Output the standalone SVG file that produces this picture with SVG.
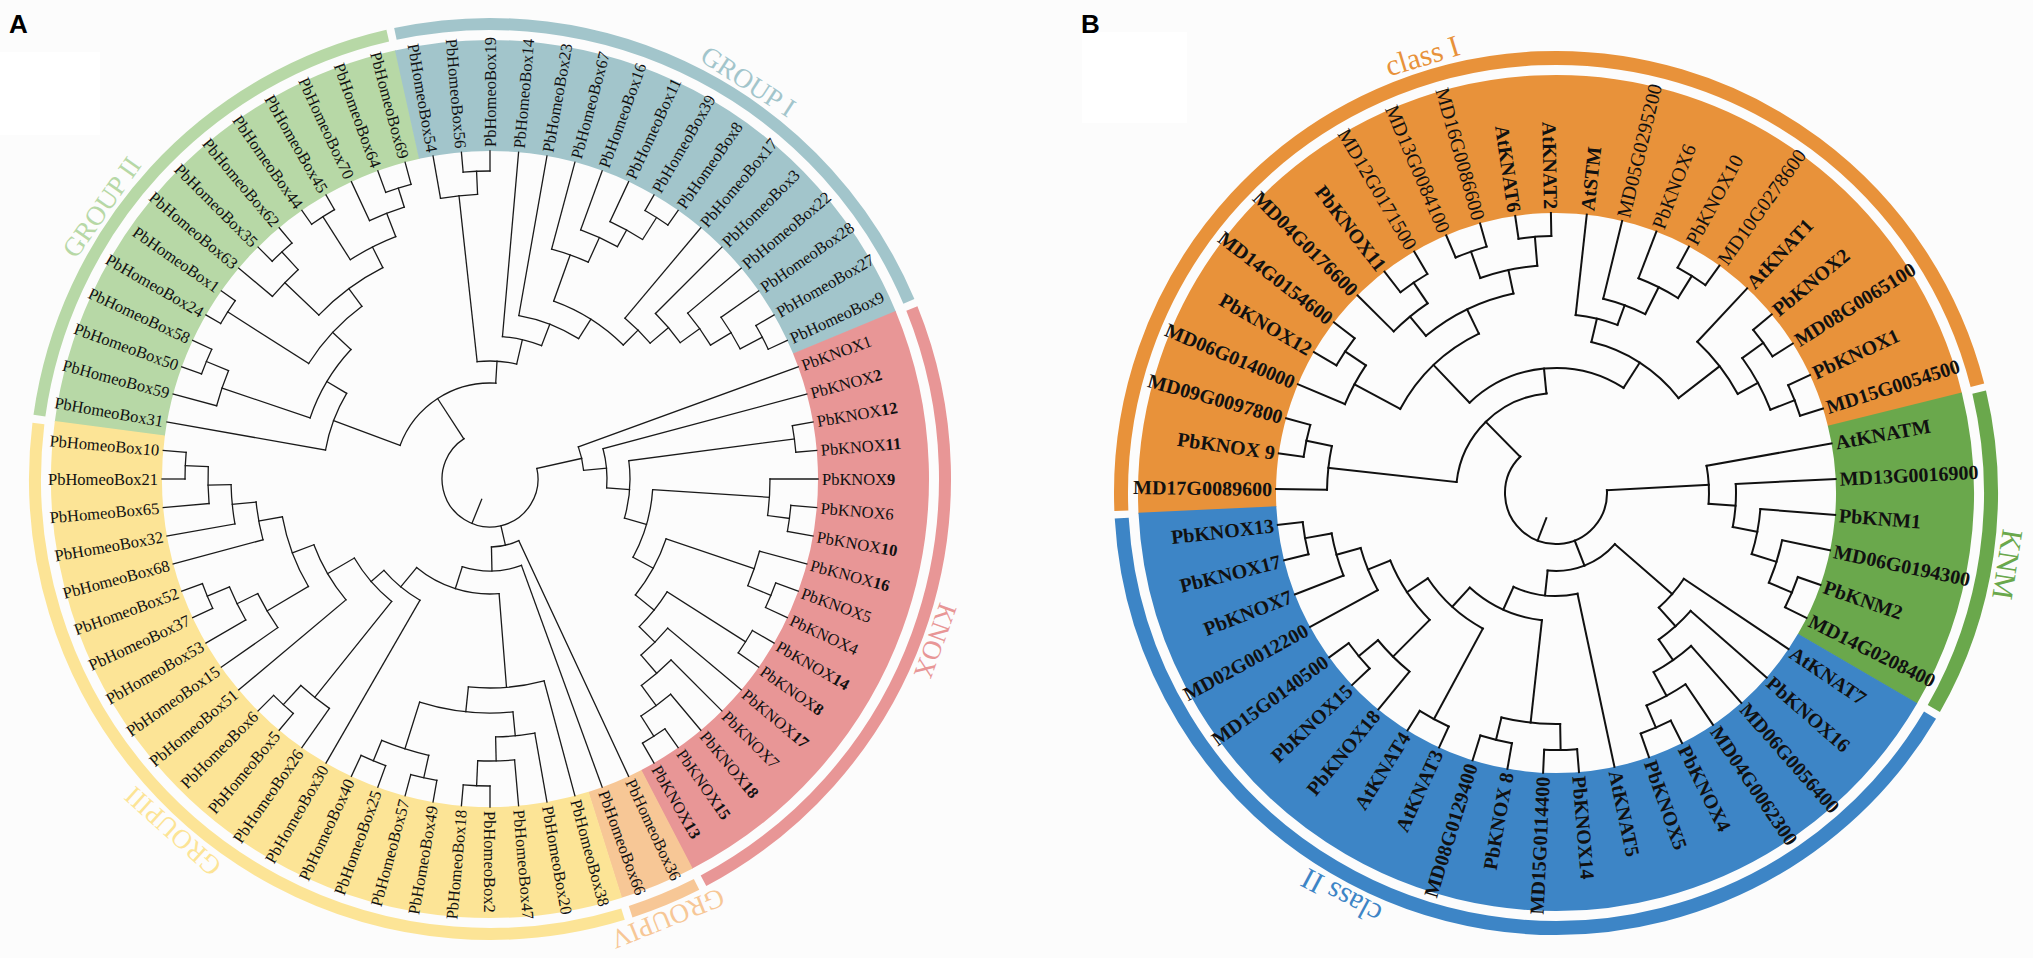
<svg xmlns="http://www.w3.org/2000/svg" width="2033" height="958" viewBox="0 0 2033 958">
<style>
text{font-family:"Liberation Serif","Times New Roman",serif;fill:#111}
.la text{font-size:16.5px}
.lb text{font-size:20px;font-weight:bold}
.lb text.n{font-weight:normal}
.e{text-anchor:end}
.m{text-anchor:middle}
.ca line,.ca circle{fill:none;stroke:#1a1a1a;stroke-width:1.3;stroke-linecap:square}
.cb line,.cb circle{fill:none;stroke:#111;stroke-width:2;stroke-linecap:square}
.bd circle{fill:none}
.lt{font-family:"Liberation Sans",Arial,sans-serif;font-weight:bold;font-size:26px;fill:#000}
.ga{font-size:27px}
.gb{font-size:30px}
</style>
<rect width="2033" height="958" fill="#fcfcfc"/>
<rect x="0" y="52" width="100" height="83" fill="#fff"/>
<rect x="1082" y="32" width="105" height="91" fill="#fff"/>
<text class="lt" x="9" y="33">A</text>
<text class="lt" x="1081" y="33">B</text>

<g id="panelA" transform="translate(490,479)">
<g id="bandsA" class="bd">
<circle r="383.5" stroke="#b7d8a6" stroke-width="111" stroke-dasharray="469 9999" transform="rotate(187.5)"/>
<circle r="383.5" stroke="#a2c5cb" stroke-width="111" stroke-dasharray="536 9999" transform="rotate(257.5)"/>
<circle r="383.5" stroke="#e89696" stroke-width="111" stroke-dasharray="569.4 9999" transform="rotate(337.5)"/>
<circle r="383.5" stroke="#f7c796" stroke-width="111" stroke-dasharray="67.4 9999" transform="rotate(62.5)"/>
<circle r="383.5" stroke="#fce496" stroke-width="111" stroke-dasharray="770.2 9999" transform="rotate(72.5)"/>
<circle r="455" stroke="#b7d8a6" stroke-width="12" stroke-dasharray="547.94 9999" transform="rotate(188)"/>
<circle r="455" stroke="#a2c5cb" stroke-width="12" stroke-dasharray="627.35 9999" transform="rotate(258)"/>
<circle r="455" stroke="#e89696" stroke-width="12" stroke-dasharray="667.06 9999" transform="rotate(338)"/>
<circle r="455" stroke="#f7c796" stroke-width="12" stroke-dasharray="71.47 9999" transform="rotate(63)"/>
<circle r="455" stroke="#fce496" stroke-width="12" stroke-dasharray="905.3 9999" transform="rotate(73)"/>
</g>
<g id="groupLabelsA">
<text id="gA-I" class="m ga" style="fill:#a2c5cb" transform="rotate(303) translate(465) rotate(90)">GROUP I</text>
<text id="gA-II" class="m ga" style="fill:#b7d8a6" transform="rotate(215) translate(465) rotate(90)">GROUP II</text>
<text id="gA-KNOX" class="m ga" style="fill:#e89696" transform="rotate(20) translate(465) rotate(90)">KNOX</text>
<text id="gA-III" class="m ga" style="fill:#fce496" transform="rotate(132) translate(465) rotate(90)">GROUPIII</text>
<text id="gA-IV" class="m ga" style="fill:#f7c796" transform="rotate(68) translate(465) rotate(90)">GROUPIV</text>
</g>
<g id="leavesA" class="la">
<text transform="rotate(270)" x="332" dy=".35em">PbHomeoBox19</text>
<text transform="rotate(275)" x="332" dy=".35em">PbHomeoBox14</text>
<text transform="rotate(280)" x="332" dy=".35em">PbHomeoBox23</text>
<text transform="rotate(285)" x="332" dy=".35em">PbHomeoBox67</text>
<text transform="rotate(290)" x="332" dy=".35em">PbHomeoBox16</text>
<text transform="rotate(295)" x="332" dy=".35em">PbHomeoBox11</text>
<text transform="rotate(300)" x="332" dy=".35em">PbHomeoBox39</text>
<text transform="rotate(305)" x="332" dy=".35em">PbHomeoBox8</text>
<text transform="rotate(310)" x="332" dy=".35em">PbHomeoBox17</text>
<text transform="rotate(315)" x="332" dy=".35em">PbHomeoBox3</text>
<text transform="rotate(320)" x="332" dy=".35em">PbHomeoBox22</text>
<text transform="rotate(325)" x="332" dy=".35em">PbHomeoBox28</text>
<text transform="rotate(330)" x="332" dy=".35em">PbHomeoBox27</text>
<text transform="rotate(335)" x="332" dy=".35em">PbHomeoBox9</text>
<text transform="rotate(340)" x="332" dy=".35em">PbKNOX1</text>
<text transform="rotate(345)" x="332" dy=".35em">PbKNOX<tspan font-weight="bold">2</tspan></text>
<text transform="rotate(350)" x="332" dy=".35em">PbKNOX<tspan font-weight="bold">12</tspan></text>
<text transform="rotate(355)" x="332" dy=".35em">PbKNOX<tspan font-weight="bold">11</tspan></text>
<text transform="rotate(0)" x="332" dy=".35em">PbKNOX<tspan font-weight="bold">9</tspan></text>
<text transform="rotate(5)" x="332" dy=".35em">PbKNOX6</text>
<text transform="rotate(10)" x="332" dy=".35em">PbKNOX<tspan font-weight="bold">10</tspan></text>
<text transform="rotate(15)" x="332" dy=".35em">PbKNOX<tspan font-weight="bold">16</tspan></text>
<text transform="rotate(20)" x="332" dy=".35em">PbKNOX5</text>
<text transform="rotate(25)" x="332" dy=".35em">PbKNOX4</text>
<text transform="rotate(30)" x="332" dy=".35em">PbKNOX<tspan font-weight="bold">14</tspan></text>
<text transform="rotate(35)" x="332" dy=".35em">PbKNOX<tspan font-weight="bold">8</tspan></text>
<text transform="rotate(40)" x="332" dy=".35em">PbKNOX<tspan font-weight="bold">17</tspan></text>
<text transform="rotate(45)" x="332" dy=".35em">PbKNOX7</text>
<text transform="rotate(50)" x="332" dy=".35em">PbKNOX<tspan font-weight="bold">18</tspan></text>
<text transform="rotate(55)" x="332" dy=".35em">PbKNOX<tspan font-weight="bold">15</tspan></text>
<text transform="rotate(60)" x="332" dy=".35em">PbKNOX<tspan font-weight="bold">13</tspan></text>
<text transform="rotate(65)" x="332" dy=".35em">PbHomeoBox36</text>
<text transform="rotate(70)" x="332" dy=".35em">PbHomeoBox66</text>
<text transform="rotate(75)" x="332" dy=".35em">PbHomeoBox38</text>
<text transform="rotate(80)" x="332" dy=".35em">PbHomeoBox20</text>
<text transform="rotate(85)" x="332" dy=".35em">PbHomeoBox47</text>
<text transform="rotate(90)" x="332" dy=".35em">PbHomeoBox2</text>
<text class="e" transform="rotate(-85)" x="-332" dy=".35em">PbHomeoBox18</text>
<text class="e" transform="rotate(-80)" x="-332" dy=".35em">PbHomeoBox49</text>
<text class="e" transform="rotate(-75)" x="-332" dy=".35em">PbHomeoBox57</text>
<text class="e" transform="rotate(-70)" x="-332" dy=".35em">PbHomeoBox25</text>
<text class="e" transform="rotate(-65)" x="-332" dy=".35em">PbHomeoBox40</text>
<text class="e" transform="rotate(-60)" x="-332" dy=".35em">PbHomeoBox30</text>
<text class="e" transform="rotate(-55)" x="-332" dy=".35em">PbHomeoBox26</text>
<text class="e" transform="rotate(-50)" x="-332" dy=".35em">PbHomeoBox5</text>
<text class="e" transform="rotate(-45)" x="-332" dy=".35em">PbHomeoBox6</text>
<text class="e" transform="rotate(-40)" x="-332" dy=".35em">PbHomeoBox51</text>
<text class="e" transform="rotate(-35)" x="-332" dy=".35em">PbHomeoBox15</text>
<text class="e" transform="rotate(-30)" x="-332" dy=".35em">PbHomeoBox53</text>
<text class="e" transform="rotate(-25)" x="-332" dy=".35em">PbHomeoBox37</text>
<text class="e" transform="rotate(-20)" x="-332" dy=".35em">PbHomeoBox52</text>
<text class="e" transform="rotate(-15)" x="-332" dy=".35em">PbHomeoBox68</text>
<text class="e" transform="rotate(-10)" x="-332" dy=".35em">PbHomeoBox32</text>
<text class="e" transform="rotate(-5)" x="-332" dy=".35em">PbHomeoBox65</text>
<text class="e" transform="rotate(0)" x="-332" dy=".35em">PbHomeoBox21</text>
<text class="e" transform="rotate(5)" x="-332" dy=".35em">PbHomeoBox10</text>
<text class="e" transform="rotate(10)" x="-332" dy=".35em">PbHomeoBox31</text>
<text class="e" transform="rotate(15)" x="-332" dy=".35em">PbHomeoBox59</text>
<text class="e" transform="rotate(20)" x="-332" dy=".35em">PbHomeoBox50</text>
<text class="e" transform="rotate(25)" x="-332" dy=".35em">PbHomeoBox58</text>
<text class="e" transform="rotate(30)" x="-332" dy=".35em">PbHomeoBox24</text>
<text class="e" transform="rotate(35)" x="-332" dy=".35em">PbHomeoBox1</text>
<text class="e" transform="rotate(40)" x="-332" dy=".35em">PbHomeoBox63</text>
<text class="e" transform="rotate(45)" x="-332" dy=".35em">PbHomeoBox35</text>
<text class="e" transform="rotate(50)" x="-332" dy=".35em">PbHomeoBox62</text>
<text class="e" transform="rotate(55)" x="-332" dy=".35em">PbHomeoBox44</text>
<text class="e" transform="rotate(60)" x="-332" dy=".35em">PbHomeoBox45</text>
<text class="e" transform="rotate(65)" x="-332" dy=".35em">PbHomeoBox70</text>
<text class="e" transform="rotate(70)" x="-332" dy=".35em">PbHomeoBox64</text>
<text class="e" transform="rotate(75)" x="-332" dy=".35em">PbHomeoBox69</text>
<text class="e" transform="rotate(80)" x="-332" dy=".35em">PbHomeoBox54</text>
<text class="e" transform="rotate(85)" x="-332" dy=".35em">PbHomeoBox56</text>
</g>
<g id="connectorsA" class="ca">
<circle r="307" stroke-dasharray="26.79 9999" transform="rotate(350)"/>
<circle r="302" stroke-dasharray="26.35 9999" transform="rotate(5)"/>
<circle r="280" stroke-dasharray="36.65 9999" transform="rotate(0)"/>
<circle r="304" stroke-dasharray="26.53 9999" transform="rotate(20)"/>
<circle r="279" stroke-dasharray="36.52 9999" transform="rotate(15)"/>
<circle r="303" stroke-dasharray="26.44 9999" transform="rotate(30)"/>
<circle r="305" stroke-dasharray="26.62 9999" transform="rotate(55)"/>
<circle r="281" stroke-dasharray="36.78 9999" transform="rotate(50)"/>
<circle r="256" stroke-dasharray="39.1 9999" transform="rotate(45)"/>
<circle r="232" stroke-dasharray="37.96 9999" transform="rotate(40)"/>
<circle r="210" stroke-dasharray="44.68 9999" transform="rotate(32.5)"/>
<circle r="186" stroke-dasharray="64.41 9999" transform="rotate(18.75)"/>
<circle r="163" stroke-dasharray="70.89 9999" transform="rotate(3.75)"/>
<circle r="140" stroke-dasharray="57.93 9999" transform="rotate(352.5)"/>
<circle r="117" stroke-dasharray="39.53 9999" transform="rotate(345)"/>
<circle r="94" stroke-dasharray="24.08 9999" transform="rotate(340)"/>
<circle r="307" stroke-dasharray="26.79 9999" transform="rotate(90)"/>
<circle r="282" stroke-dasharray="36.91 9999" transform="rotate(85)"/>
<circle r="258" stroke-dasharray="39.4 9999" transform="rotate(80)"/>
<circle r="306" stroke-dasharray="26.7 9999" transform="rotate(100)"/>
<circle r="305" stroke-dasharray="26.62 9999" transform="rotate(110)"/>
<circle r="283" stroke-dasharray="49.39 9999" transform="rotate(102.5)"/>
<circle r="234" stroke-dasharray="94.44 9999" transform="rotate(84.375)"/>
<circle r="209" stroke-dasharray="76.38 9999" transform="rotate(75)"/>
<circle r="306" stroke-dasharray="26.7 9999" transform="rotate(130)"/>
<circle r="280" stroke-dasharray="36.65 9999" transform="rotate(125)"/>
<circle r="305" stroke-dasharray="26.62 9999" transform="rotate(180)"/>
<circle r="282" stroke-dasharray="36.91 9999" transform="rotate(175)"/>
<circle r="259" stroke-dasharray="39.55 9999" transform="rotate(170)"/>
<circle r="235" stroke-dasharray="38.45 9999" transform="rotate(165)"/>
<circle r="306" stroke-dasharray="26.7 9999" transform="rotate(155)"/>
<circle r="282" stroke-dasharray="36.91 9999" transform="rotate(150)"/>
<circle r="259" stroke-dasharray="39.55 9999" transform="rotate(145)"/>
<circle r="211" stroke-dasharray="74.81 9999" transform="rotate(149.375)"/>
<circle r="188" stroke-dasharray="64.08 9999" transform="rotate(140)"/>
<circle r="157" stroke-dasharray="57.6 9999" transform="rotate(128.75)"/>
<circle r="140" stroke-dasharray="47.06 9999" transform="rotate(120)"/>
<circle r="115" stroke-dasharray="88.64 9999" transform="rotate(85.47)"/>
<circle r="92" stroke-dasharray="60.29 9999" transform="rotate(70)"/>
<circle r="68" stroke-dasharray="28.22 9999" transform="rotate(65)"/>
<circle r="308" stroke-dasharray="26.88 9999" transform="rotate(265)"/>
<circle r="285" stroke-dasharray="37.31 9999" transform="rotate(260)"/>
<circle r="310" stroke-dasharray="27.05 9999" transform="rotate(300)"/>
<circle r="284" stroke-dasharray="37.18 9999" transform="rotate(295)"/>
<circle r="265" stroke-dasharray="40.47 9999" transform="rotate(290)"/>
<circle r="238" stroke-dasharray="38.94 9999" transform="rotate(285)"/>
<circle r="307" stroke-dasharray="26.79 9999" transform="rotate(330)"/>
<circle r="282" stroke-dasharray="36.91 9999" transform="rotate(325)"/>
<circle r="258" stroke-dasharray="39.4 9999" transform="rotate(320)"/>
<circle r="234" stroke-dasharray="38.29 9999" transform="rotate(315)"/>
<circle r="210" stroke-dasharray="35.52 9999" transform="rotate(310)"/>
<circle r="189" stroke-dasharray="82.96 9999" transform="rotate(289.69)"/>
<circle r="166" stroke-dasharray="64.52 9999" transform="rotate(280)"/>
<circle r="143" stroke-dasharray="40.26 9999" transform="rotate(275)"/>
<circle r="118" stroke-dasharray="39.79 9999" transform="rotate(263.75)"/>
<circle r="305" stroke-dasharray="26.62 9999" transform="rotate(250)"/>
<circle r="285" stroke-dasharray="37.31 9999" transform="rotate(245)"/>
<circle r="311" stroke-dasharray="27.14 9999" transform="rotate(235)"/>
<circle r="260" stroke-dasharray="51.05 9999" transform="rotate(237.5)"/>
<circle r="308" stroke-dasharray="26.88 9999" transform="rotate(225)"/>
<circle r="284" stroke-dasharray="37.18 9999" transform="rotate(220)"/>
<circle r="237" stroke-dasharray="80.14 9999" transform="rotate(223.75)"/>
<circle r="311" stroke-dasharray="27.14 9999" transform="rotate(210)"/>
<circle r="215" stroke-dasharray="78.58 9999" transform="rotate(212.5)"/>
<circle r="307" stroke-dasharray="26.79 9999" transform="rotate(200)"/>
<circle r="283" stroke-dasharray="37.04 9999" transform="rotate(195)"/>
<circle r="190" stroke-dasharray="80.32 9999" transform="rotate(198.75)"/>
<circle r="167" stroke-dasharray="60.8 9999" transform="rotate(190)"/>
<circle r="96" stroke-dasharray="122.28 9999" transform="rotate(200.43)"/>
<circle r="48" stroke-dasharray="209.09 9999" transform="rotate(-12.66)"/>
<line x1="307" x2="328" transform="rotate(350)"/>
<line x1="307" x2="328" transform="rotate(355)"/>
<line x1="302" x2="328" transform="rotate(5)"/>
<line x1="302" x2="328" transform="rotate(10)"/>
<line x1="280" x2="328" transform="rotate(0)"/>
<line x1="280" x2="302" transform="rotate(7.5)"/>
<line x1="304" x2="328" transform="rotate(20)"/>
<line x1="304" x2="328" transform="rotate(25)"/>
<line x1="279" x2="328" transform="rotate(15)"/>
<line x1="279" x2="304" transform="rotate(22.5)"/>
<line x1="303" x2="328" transform="rotate(30)"/>
<line x1="303" x2="328" transform="rotate(35)"/>
<line x1="305" x2="328" transform="rotate(55)"/>
<line x1="305" x2="328" transform="rotate(60)"/>
<line x1="281" x2="328" transform="rotate(50)"/>
<line x1="281" x2="305" transform="rotate(57.5)"/>
<line x1="256" x2="328" transform="rotate(45)"/>
<line x1="256" x2="281" transform="rotate(53.75)"/>
<line x1="232" x2="328" transform="rotate(40)"/>
<line x1="232" x2="256" transform="rotate(49.375)"/>
<line x1="210" x2="303" transform="rotate(32.5)"/>
<line x1="210" x2="232" transform="rotate(44.69)"/>
<line x1="186" x2="279" transform="rotate(18.75)"/>
<line x1="186" x2="210" transform="rotate(38.59)"/>
<line x1="163" x2="280" transform="rotate(3.75)"/>
<line x1="163" x2="186" transform="rotate(28.67)"/>
<line x1="140" x2="307" transform="rotate(352.5)"/>
<line x1="140" x2="163" transform="rotate(16.21)"/>
<line x1="117" x2="328" transform="rotate(345)"/>
<line x1="117" x2="140" transform="rotate(4.36)"/>
<line x1="94" x2="328" transform="rotate(340)"/>
<line x1="94" x2="117" transform="rotate(354.68)"/>
<line x1="48" x2="94" transform="rotate(347.34)"/>
<line x1="307" x2="328" transform="rotate(90)"/>
<line x1="307" x2="328" transform="rotate(95)"/>
<line x1="282" x2="328" transform="rotate(85)"/>
<line x1="282" x2="307" transform="rotate(92.5)"/>
<line x1="258" x2="328" transform="rotate(80)"/>
<line x1="258" x2="282" transform="rotate(88.75)"/>
<line x1="306" x2="328" transform="rotate(100)"/>
<line x1="306" x2="328" transform="rotate(105)"/>
<line x1="305" x2="328" transform="rotate(110)"/>
<line x1="305" x2="328" transform="rotate(115)"/>
<line x1="283" x2="306" transform="rotate(102.5)"/>
<line x1="283" x2="305" transform="rotate(112.5)"/>
<line x1="234" x2="258" transform="rotate(84.375)"/>
<line x1="234" x2="283" transform="rotate(107.5)"/>
<line x1="209" x2="328" transform="rotate(75)"/>
<line x1="209" x2="234" transform="rotate(95.94)"/>
<line x1="306" x2="328" transform="rotate(130)"/>
<line x1="306" x2="328" transform="rotate(135)"/>
<line x1="280" x2="328" transform="rotate(125)"/>
<line x1="280" x2="306" transform="rotate(132.5)"/>
<line x1="305" x2="328" transform="rotate(180)"/>
<line x1="305" x2="328" transform="rotate(185)"/>
<line x1="282" x2="328" transform="rotate(175)"/>
<line x1="282" x2="305" transform="rotate(182.5)"/>
<line x1="259" x2="328" transform="rotate(170)"/>
<line x1="259" x2="282" transform="rotate(178.75)"/>
<line x1="235" x2="328" transform="rotate(165)"/>
<line x1="235" x2="259" transform="rotate(174.375)"/>
<line x1="306" x2="328" transform="rotate(155)"/>
<line x1="306" x2="328" transform="rotate(160)"/>
<line x1="282" x2="328" transform="rotate(150)"/>
<line x1="282" x2="306" transform="rotate(157.5)"/>
<line x1="259" x2="328" transform="rotate(145)"/>
<line x1="259" x2="282" transform="rotate(153.75)"/>
<line x1="211" x2="259" transform="rotate(149.375)"/>
<line x1="211" x2="235" transform="rotate(169.69)"/>
<line x1="188" x2="328" transform="rotate(140)"/>
<line x1="188" x2="211" transform="rotate(159.53)"/>
<line x1="157" x2="280" transform="rotate(128.75)"/>
<line x1="157" x2="188" transform="rotate(149.77)"/>
<line x1="140" x2="328" transform="rotate(120)"/>
<line x1="140" x2="157" transform="rotate(139.26)"/>
<line x1="115" x2="209" transform="rotate(85.47)"/>
<line x1="115" x2="140" transform="rotate(129.63)"/>
<line x1="92" x2="328" transform="rotate(70)"/>
<line x1="92" x2="115" transform="rotate(107.55)"/>
<line x1="68" x2="328" transform="rotate(65)"/>
<line x1="68" x2="92" transform="rotate(88.78)"/>
<line x1="48" x2="68" transform="rotate(76.89)"/>
<line x1="308" x2="328" transform="rotate(265)"/>
<line x1="308" x2="328" transform="rotate(270)"/>
<line x1="285" x2="328" transform="rotate(260)"/>
<line x1="285" x2="308" transform="rotate(267.5)"/>
<line x1="310" x2="328" transform="rotate(300)"/>
<line x1="310" x2="328" transform="rotate(305)"/>
<line x1="284" x2="328" transform="rotate(295)"/>
<line x1="284" x2="310" transform="rotate(302.5)"/>
<line x1="265" x2="328" transform="rotate(290)"/>
<line x1="265" x2="284" transform="rotate(298.75)"/>
<line x1="238" x2="328" transform="rotate(285)"/>
<line x1="238" x2="265" transform="rotate(294.375)"/>
<line x1="307" x2="328" transform="rotate(330)"/>
<line x1="307" x2="328" transform="rotate(335)"/>
<line x1="282" x2="328" transform="rotate(325)"/>
<line x1="282" x2="307" transform="rotate(332.5)"/>
<line x1="258" x2="328" transform="rotate(320)"/>
<line x1="258" x2="282" transform="rotate(328.75)"/>
<line x1="234" x2="328" transform="rotate(315)"/>
<line x1="234" x2="258" transform="rotate(324.375)"/>
<line x1="210" x2="328" transform="rotate(310)"/>
<line x1="210" x2="234" transform="rotate(319.69)"/>
<line x1="189" x2="238" transform="rotate(289.69)"/>
<line x1="189" x2="210" transform="rotate(314.84)"/>
<line x1="166" x2="328" transform="rotate(280)"/>
<line x1="166" x2="189" transform="rotate(302.27)"/>
<line x1="143" x2="328" transform="rotate(275)"/>
<line x1="143" x2="166" transform="rotate(291.13)"/>
<line x1="118" x2="285" transform="rotate(263.75)"/>
<line x1="118" x2="143" transform="rotate(283.07)"/>
<line x1="305" x2="328" transform="rotate(250)"/>
<line x1="305" x2="328" transform="rotate(255)"/>
<line x1="285" x2="328" transform="rotate(245)"/>
<line x1="285" x2="305" transform="rotate(252.5)"/>
<line x1="311" x2="328" transform="rotate(235)"/>
<line x1="311" x2="328" transform="rotate(240)"/>
<line x1="260" x2="311" transform="rotate(237.5)"/>
<line x1="260" x2="285" transform="rotate(248.75)"/>
<line x1="308" x2="328" transform="rotate(225)"/>
<line x1="308" x2="328" transform="rotate(230)"/>
<line x1="284" x2="328" transform="rotate(220)"/>
<line x1="284" x2="308" transform="rotate(227.5)"/>
<line x1="237" x2="284" transform="rotate(223.75)"/>
<line x1="237" x2="260" transform="rotate(243.125)"/>
<line x1="311" x2="328" transform="rotate(210)"/>
<line x1="311" x2="328" transform="rotate(215)"/>
<line x1="215" x2="311" transform="rotate(212.5)"/>
<line x1="215" x2="237" transform="rotate(233.44)"/>
<line x1="307" x2="328" transform="rotate(200)"/>
<line x1="307" x2="328" transform="rotate(205)"/>
<line x1="283" x2="328" transform="rotate(195)"/>
<line x1="283" x2="307" transform="rotate(202.5)"/>
<line x1="190" x2="283" transform="rotate(198.75)"/>
<line x1="190" x2="215" transform="rotate(222.97)"/>
<line x1="167" x2="328" transform="rotate(190)"/>
<line x1="167" x2="190" transform="rotate(210.86)"/>
<line x1="96" x2="167" transform="rotate(200.43)"/>
<line x1="96" x2="118" transform="rotate(273.41)"/>
<line x1="48" x2="96" transform="rotate(236.92)"/>
<line x1="22" x2="48" transform="rotate(112.13)"/>
</g>
</g>

<g id="panelB" transform="translate(1556,493)">
<g id="bandsB" class="bd">
<circle r="349" stroke="#e8923a" stroke-width="138" stroke-dasharray="1029.6 9999" transform="rotate(177.15)"/>
<circle r="349" stroke="#6aa84c" stroke-width="138" stroke-dasharray="269.1 9999" transform="rotate(346.1)"/>
<circle r="349" stroke="#3d85c6" stroke-width="138" stroke-dasharray="895.6 9999" transform="rotate(30.2)"/>
<circle r="435" stroke="#e8923a" stroke-width="14" stroke-dasharray="1275.1 9999" transform="rotate(177.65)"/>
<circle r="435" stroke="#6aa84c" stroke-width="14" stroke-dasharray="327.2 9999" transform="rotate(346.6)"/>
<circle r="435" stroke="#3d85c6" stroke-width="14" stroke-dasharray="1108.1 9999" transform="rotate(30.7)"/>
</g>
<g id="groupLabelsB">
<text id="gB-I" class="m gb" style="fill:#e8923a" transform="rotate(253) translate(447) rotate(90)">class I</text>
<text id="gB-KNM" class="m gb" style="fill:#6aa84c" transform="rotate(9) translate(447) rotate(90)">KNM</text>
<text id="gB-II" class="m gb" style="fill:#3d85c6" transform="rotate(118) translate(447) rotate(90)">class II</text>
</g>
<g id="leavesB" class="lb">
<text class="e" transform="rotate(0.8)" x="-284" dy=".35em">MD17G0089600</text>
<text class="e" transform="rotate(8.15)" x="-284" dy=".35em">PbKNOX 9</text>
<text class="e" transform="rotate(15.49)" x="-284" dy=".35em">MD09G0097800</text>
<text class="e" transform="rotate(22.84)" x="-284" dy=".35em">MD06G0140000</text>
<text class="e" transform="rotate(30.19)" x="-284" dy=".35em">PbKNOX12</text>
<text class="e" transform="rotate(37.54)" x="-284" dy=".35em">MD14G0154600</text>
<text class="e" transform="rotate(44.88)" x="-284" dy=".35em">MD04G0176600</text>
<text class="e" transform="rotate(52.23)" x="-284" dy=".35em">PbKNOX11</text>
<text class="e n" transform="rotate(59.58)" x="-284" dy=".35em">MD12G0171500</text>
<text class="e n" transform="rotate(66.92)" x="-284" dy=".35em">MD13G0084100</text>
<text class="e n" transform="rotate(74.27)" x="-284" dy=".35em">MD16G0086600</text>
<text class="e" transform="rotate(81.62)" x="-284" dy=".35em">AtKNAT6</text>
<text class="e" transform="rotate(88.96)" x="-284" dy=".35em">AtKNAT2</text>
<text transform="rotate(276.31)" x="284" dy=".35em">AtSTM</text>
<text class="n" transform="rotate(283.66)" x="284" dy=".35em">MD05G0295200</text>
<text class="n" transform="rotate(291.01)" x="284" dy=".35em">PbKNOX6</text>
<text class="n" transform="rotate(298.35)" x="284" dy=".35em">PbKNOX10</text>
<text class="n" transform="rotate(305.7)" x="284" dy=".35em">MD10G0278600</text>
<text transform="rotate(313.05)" x="284" dy=".35em">AtKNAT1</text>
<text transform="rotate(320.39)" x="284" dy=".35em">PbKNOX2</text>
<text transform="rotate(327.74)" x="284" dy=".35em">MD08G0065100</text>
<text transform="rotate(335.09)" x="284" dy=".35em">PbKNOX1</text>
<text transform="rotate(342.43)" x="284" dy=".35em">MD15G0054500</text>
<text transform="rotate(349.78)" x="284" dy=".35em">AtKNATM</text>
<text transform="rotate(357.13)" x="284" dy=".35em">MD13G0016900</text>
<text transform="rotate(4.48)" x="284" dy=".35em">PbKNM1</text>
<text transform="rotate(11.82)" x="284" dy=".35em">MD06G0194300</text>
<text transform="rotate(19.17)" x="284" dy=".35em">PbKNM2</text>
<text transform="rotate(26.52)" x="284" dy=".35em">MD14G0208400</text>
<text transform="rotate(33.86)" x="284" dy=".35em">AtKNAT7</text>
<text transform="rotate(41.21)" x="284" dy=".35em">PbKNOX16</text>
<text transform="rotate(48.56)" x="284" dy=".35em">MD06G0056400</text>
<text transform="rotate(55.9)" x="284" dy=".35em">MD04G0062300</text>
<text transform="rotate(63.25)" x="284" dy=".35em">PbKNOX4</text>
<text transform="rotate(70.6)" x="284" dy=".35em">PbKNOX5</text>
<text transform="rotate(77.95)" x="284" dy=".35em">AtKNAT5</text>
<text transform="rotate(85.29)" x="284" dy=".35em">PbKNOX14</text>
<text class="e" transform="rotate(-87.36)" x="-284" dy=".35em">MD15G0114400</text>
<text class="e" transform="rotate(-80.01)" x="-284" dy=".35em">PbKNOX 8</text>
<text class="e" transform="rotate(-72.67)" x="-284" dy=".35em">MD08G0129400</text>
<text class="e" transform="rotate(-65.32)" x="-284" dy=".35em">AtKNAT3</text>
<text class="e" transform="rotate(-57.97)" x="-284" dy=".35em">AtKNAT4</text>
<text class="e" transform="rotate(-50.63)" x="-284" dy=".35em">PbKNOX18</text>
<text class="e" transform="rotate(-43.28)" x="-284" dy=".35em">PbKNOX15</text>
<text class="e" transform="rotate(-35.93)" x="-284" dy=".35em">MD15G0140500</text>
<text class="e" transform="rotate(-28.58)" x="-284" dy=".35em">MD02G0012200</text>
<text class="e" transform="rotate(-21.24)" x="-284" dy=".35em">PbKNOX7</text>
<text class="e" transform="rotate(-13.89)" x="-284" dy=".35em">PbKNOX17</text>
<text class="e" transform="rotate(-6.54)" x="-284" dy=".35em">PbKNOX13</text>
</g>
<g id="connectorsB" class="cb">
<circle r="255" stroke-dasharray="32.67 9999" transform="rotate(188.15)"/>
<circle r="229" stroke-dasharray="44.05 9999" transform="rotate(180.8)"/>
<circle r="254" stroke-dasharray="32.58 9999" transform="rotate(210.19)"/>
<circle r="229" stroke-dasharray="44.08 9999" transform="rotate(202.84)"/>
<circle r="254" stroke-dasharray="32.58 9999" transform="rotate(232.23)"/>
<circle r="229" stroke-dasharray="44.08 9999" transform="rotate(224.88)"/>
<circle r="256" stroke-dasharray="32.84 9999" transform="rotate(246.92)"/>
<circle r="257" stroke-dasharray="32.92 9999" transform="rotate(261.62)"/>
<circle r="228" stroke-dasharray="58.46 9999" transform="rotate(250.6)"/>
<circle r="204" stroke-dasharray="98.13 9999" transform="rotate(230.39)"/>
<circle r="177" stroke-dasharray="110.66 9999" transform="rotate(208.35)"/>
<circle r="256" stroke-dasharray="32.84 9999" transform="rotate(298.35)"/>
<circle r="230" stroke-dasharray="44.24 9999" transform="rotate(291.01)"/>
<circle r="200" stroke-dasharray="44.89 9999" transform="rotate(283.66)"/>
<circle r="179" stroke-dasharray="43.05 9999" transform="rotate(276.31)"/>
<circle r="256" stroke-dasharray="32.84 9999" transform="rotate(320.39)"/>
<circle r="256" stroke-dasharray="32.8 9999" transform="rotate(335.09)"/>
<circle r="230" stroke-dasharray="58.97 9999" transform="rotate(324.07)"/>
<circle r="207" stroke-dasharray="66.33 9999" transform="rotate(313.05)"/>
<circle r="155" stroke-dasharray="105.59 9999" transform="rotate(283.2)"/>
<circle r="125" stroke-dasharray="166.81 9999" transform="rotate(226.26)"/>
<circle r="100" stroke-dasharray="136.45 9999" transform="rotate(186.31)"/>
<circle r="256" stroke-dasharray="32.84 9999" transform="rotate(19.17)"/>
<circle r="231" stroke-dasharray="44.47 9999" transform="rotate(11.82)"/>
<circle r="205" stroke-dasharray="45.98 9999" transform="rotate(4.48)"/>
<circle r="180" stroke-dasharray="43.29 9999" transform="rotate(357.13)"/>
<circle r="153" stroke-dasharray="38.03 9999" transform="rotate(349.78)"/>
<circle r="255" stroke-dasharray="32.71 9999" transform="rotate(63.25)"/>
<circle r="231" stroke-dasharray="44.47 9999" transform="rotate(55.9)"/>
<circle r="204" stroke-dasharray="45.75 9999" transform="rotate(48.56)"/>
<circle r="179" stroke-dasharray="43.05 9999" transform="rotate(41.21)"/>
<circle r="154" stroke-dasharray="38.27 9999" transform="rotate(33.86)"/>
<circle r="257" stroke-dasharray="32.97 9999" transform="rotate(85.29)"/>
<circle r="254" stroke-dasharray="32.54 9999" transform="rotate(99.99)"/>
<circle r="231" stroke-dasharray="59.23 9999" transform="rotate(88.97)"/>
<circle r="257" stroke-dasharray="32.97 9999" transform="rotate(114.68)"/>
<circle r="256" stroke-dasharray="32.84 9999" transform="rotate(136.72)"/>
<circle r="231" stroke-dasharray="44.47 9999" transform="rotate(129.37)"/>
<circle r="255" stroke-dasharray="32.71 9999" transform="rotate(166.11)"/>
<circle r="228" stroke-dasharray="43.89 9999" transform="rotate(158.76)"/>
<circle r="203" stroke-dasharray="45.53 9999" transform="rotate(151.42)"/>
<circle r="179" stroke-dasharray="71.76 9999" transform="rotate(134.88)"/>
<circle r="154" stroke-dasharray="75.26 9999" transform="rotate(118.36)"/>
<circle r="128" stroke-dasharray="80.54 9999" transform="rotate(96.31)"/>
<circle r="103" stroke-dasharray="65.42 9999" transform="rotate(77.95)"/>
<circle r="78" stroke-dasharray="75.09 9999" transform="rotate(40.98)"/>
<circle r="51" stroke-dasharray="203.39 9999" transform="rotate(-3.1)"/>
<line x1="255" x2="280" transform="rotate(188.15)"/>
<line x1="255" x2="280" transform="rotate(195.49)"/>
<line x1="229" x2="280" transform="rotate(180.8)"/>
<line x1="229" x2="255" transform="rotate(191.82)"/>
<line x1="254" x2="280" transform="rotate(210.19)"/>
<line x1="254" x2="280" transform="rotate(217.54)"/>
<line x1="229" x2="280" transform="rotate(202.84)"/>
<line x1="229" x2="254" transform="rotate(213.87)"/>
<line x1="254" x2="280" transform="rotate(232.23)"/>
<line x1="254" x2="280" transform="rotate(239.58)"/>
<line x1="229" x2="280" transform="rotate(224.88)"/>
<line x1="229" x2="254" transform="rotate(235.91)"/>
<line x1="256" x2="280" transform="rotate(246.92)"/>
<line x1="256" x2="280" transform="rotate(254.27)"/>
<line x1="257" x2="280" transform="rotate(261.62)"/>
<line x1="257" x2="280" transform="rotate(268.96)"/>
<line x1="228" x2="256" transform="rotate(250.6)"/>
<line x1="228" x2="257" transform="rotate(265.29)"/>
<line x1="204" x2="229" transform="rotate(230.39)"/>
<line x1="204" x2="228" transform="rotate(257.95)"/>
<line x1="177" x2="229" transform="rotate(208.35)"/>
<line x1="177" x2="204" transform="rotate(244.17)"/>
<line x1="256" x2="280" transform="rotate(298.35)"/>
<line x1="256" x2="280" transform="rotate(305.7)"/>
<line x1="230" x2="280" transform="rotate(291.01)"/>
<line x1="230" x2="256" transform="rotate(302.03)"/>
<line x1="200" x2="280" transform="rotate(283.66)"/>
<line x1="200" x2="230" transform="rotate(296.52)"/>
<line x1="179" x2="280" transform="rotate(276.31)"/>
<line x1="179" x2="200" transform="rotate(290.09)"/>
<line x1="256" x2="280" transform="rotate(320.39)"/>
<line x1="256" x2="280" transform="rotate(327.74)"/>
<line x1="256" x2="280" transform="rotate(335.09)"/>
<line x1="256" x2="280" transform="rotate(342.43)"/>
<line x1="230" x2="256" transform="rotate(324.07)"/>
<line x1="230" x2="256" transform="rotate(338.76)"/>
<line x1="207" x2="280" transform="rotate(313.05)"/>
<line x1="207" x2="230" transform="rotate(331.41)"/>
<line x1="155" x2="179" transform="rotate(283.2)"/>
<line x1="155" x2="207" transform="rotate(322.23)"/>
<line x1="125" x2="177" transform="rotate(226.26)"/>
<line x1="125" x2="155" transform="rotate(302.72)"/>
<line x1="100" x2="229" transform="rotate(186.31)"/>
<line x1="100" x2="125" transform="rotate(264.49)"/>
<line x1="51" x2="100" transform="rotate(225.4)"/>
<line x1="256" x2="280" transform="rotate(19.17)"/>
<line x1="256" x2="280" transform="rotate(26.52)"/>
<line x1="231" x2="280" transform="rotate(11.82)"/>
<line x1="231" x2="256" transform="rotate(22.85)"/>
<line x1="205" x2="280" transform="rotate(4.48)"/>
<line x1="205" x2="231" transform="rotate(17.33)"/>
<line x1="180" x2="280" transform="rotate(357.13)"/>
<line x1="180" x2="205" transform="rotate(10.91)"/>
<line x1="153" x2="280" transform="rotate(349.78)"/>
<line x1="153" x2="180" transform="rotate(4.02)"/>
<line x1="51" x2="153" transform="rotate(356.9)"/>
<line x1="255" x2="280" transform="rotate(63.25)"/>
<line x1="255" x2="280" transform="rotate(70.6)"/>
<line x1="231" x2="280" transform="rotate(55.9)"/>
<line x1="231" x2="255" transform="rotate(66.93)"/>
<line x1="204" x2="280" transform="rotate(48.56)"/>
<line x1="204" x2="231" transform="rotate(61.41)"/>
<line x1="179" x2="280" transform="rotate(41.21)"/>
<line x1="179" x2="204" transform="rotate(54.99)"/>
<line x1="154" x2="280" transform="rotate(33.86)"/>
<line x1="154" x2="179" transform="rotate(48.1)"/>
<line x1="257" x2="280" transform="rotate(85.29)"/>
<line x1="257" x2="280" transform="rotate(92.64)"/>
<line x1="254" x2="280" transform="rotate(99.99)"/>
<line x1="254" x2="280" transform="rotate(107.33)"/>
<line x1="231" x2="257" transform="rotate(88.97)"/>
<line x1="231" x2="254" transform="rotate(103.66)"/>
<line x1="257" x2="280" transform="rotate(114.68)"/>
<line x1="257" x2="280" transform="rotate(122.03)"/>
<line x1="256" x2="280" transform="rotate(136.72)"/>
<line x1="256" x2="280" transform="rotate(144.07)"/>
<line x1="231" x2="280" transform="rotate(129.37)"/>
<line x1="231" x2="256" transform="rotate(140.4)"/>
<line x1="255" x2="280" transform="rotate(166.11)"/>
<line x1="255" x2="280" transform="rotate(173.46)"/>
<line x1="228" x2="280" transform="rotate(158.76)"/>
<line x1="228" x2="255" transform="rotate(169.79)"/>
<line x1="203" x2="280" transform="rotate(151.42)"/>
<line x1="203" x2="228" transform="rotate(164.27)"/>
<line x1="179" x2="231" transform="rotate(134.88)"/>
<line x1="179" x2="203" transform="rotate(157.85)"/>
<line x1="154" x2="257" transform="rotate(118.36)"/>
<line x1="154" x2="179" transform="rotate(146.36)"/>
<line x1="128" x2="231" transform="rotate(96.31)"/>
<line x1="128" x2="154" transform="rotate(132.36)"/>
<line x1="103" x2="280" transform="rotate(77.95)"/>
<line x1="103" x2="128" transform="rotate(114.34)"/>
<line x1="78" x2="154" transform="rotate(40.98)"/>
<line x1="78" x2="103" transform="rotate(96.14)"/>
<line x1="51" x2="78" transform="rotate(68.56)"/>
<line x1="27" x2="51" transform="rotate(111.15)"/>
</g>
</g>
</svg>
